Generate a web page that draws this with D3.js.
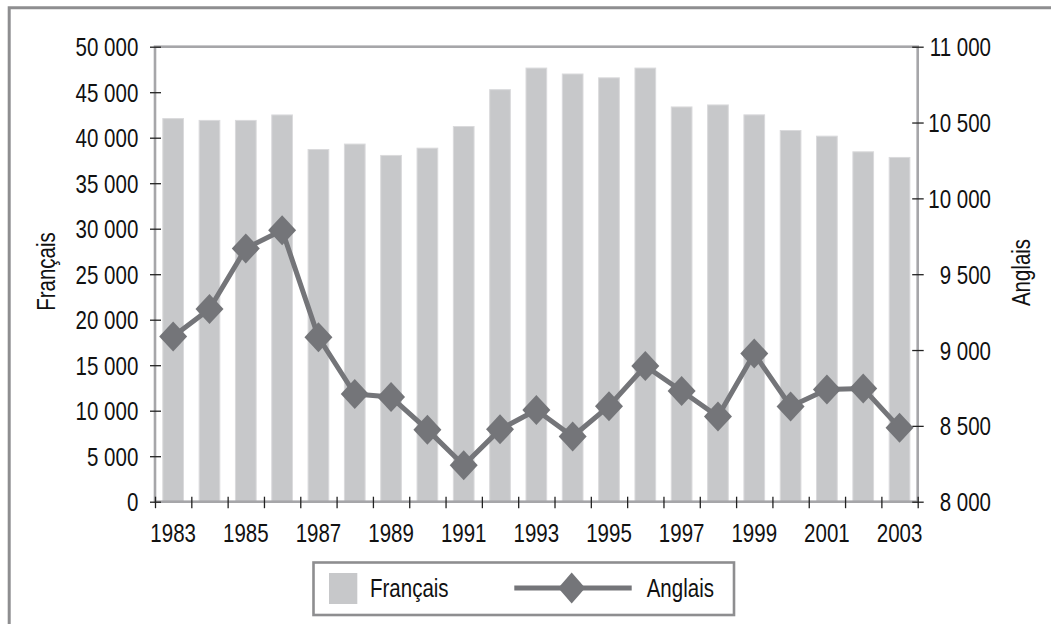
<!DOCTYPE html>
<html>
<head>
<meta charset="utf-8">
<script src="https://cdn.jsdelivr.net/npm/d3@7"></script>
<style>
  html, body { margin: 0; padding: 0; background: #fff; }
  svg { display: block; }
  text { font-family: 'Liberation Sans', Arial, sans-serif; fill: #111; }
</style>
</head>
<body>
<svg id="chart" width="1051" height="624"></svg>
<script>
const years = ["1983","1984","1985","1986","1987","1988","1989","1990","1991","1992","1993","1994","1995","1996","1997","1998","1999","2000","2001","2002","2003"];
const francais = [42100, 41900, 41900, 42500, 38700, 39300, 38050, 38850, 41230, 45280, 47650, 47000, 46580, 47650, 43380, 43600, 42510, 40790, 40170, 38450, 37830];
const anglais = [9090, 9270, 9670, 9790, 9085, 8710, 8690, 8475, 8240, 8477, 8605, 8430, 8630, 8895, 8730, 8562, 8977, 8628, 8740, 8747, 8487];
const leftTicks = [0, 5000, 10000, 15000, 20000, 25000, 30000, 35000, 40000, 45000, 50000];
const rightTicks = [8000, 8500, 9000, 9500, 10000, 10500, 11000];
const yearLabels = ["1983","1985","1987","1989","1991","1993","1995","1997","1999","2001","2003"];
const seriesNames = ["Français", "Anglais"];

const svg = d3.select("#chart");
const X0 = 155, X1 = 917.7, Y0 = 46.7, Y1 = 501.7;
const FS = 25;
const SX = 0.82; // narrow (condensed) horizontal scale
const axisGray = "#a6a6a9";
const barFill = "#c7c8ca";
const lineCol = "#747579";

const fmt = v => d3.format(",")(v).replace(/,/g, " ");

// Outer frame (only left & top visible)
svg.append("path").attr("d", `M9.2,624 L9.2,7.8 L1051,7.8`)
  .attr("fill", "none").attr("stroke", "#8e8e90").attr("stroke-width", 3);

const x = d3.scaleBand().domain(years).range([X0, X1]).paddingInner(0).paddingOuter(0);
const xIdx = d3.scaleLinear().domain([0, years.length]).range([X0, X1]);
const yL = d3.scaleLinear().domain([0, 50000]).range([Y1, Y0]);
const yR = d3.scaleLinear().domain([8000, 11000]).range([Y1, Y0]);

// Bars
const bw = x.bandwidth() * 0.57;
svg.append("g").selectAll("rect").data(francais).join("rect")
  .attr("x", (d, i) => x(years[i]) + (x.bandwidth() - bw) / 2)
  .attr("y", d => yL(d))
  .attr("width", bw)
  .attr("height", d => Y1 - yL(d))
  .attr("fill", barFill)
  .attr("stroke", "#dadadc").attr("stroke-width", 1);

// Plot border
svg.append("rect").attr("x", X0).attr("y", Y0).attr("width", X1 - X0).attr("height", Y1 - Y0)
  .attr("fill", "none").attr("stroke", axisGray).attr("stroke-width", 2.6);

// Left axis
const gL = svg.append("g").attr("transform", `translate(${X0},0)`)
  .call(d3.axisLeft(yL).tickValues(leftTicks).tickFormat(fmt).tickSize(5));
gL.select(".domain").remove();
gL.selectAll(".tick line").attr("x1", 6).attr("x2", -5).attr("stroke", "#222").attr("stroke-width", 1.3);
gL.selectAll(".tick text").attr("x", -16.7 / SX).attr("dy", "0.36em").attr("transform", `scale(${SX},1)`)
  .style("font-size", FS + "px").attr("fill", "#111");

// Right axis
const gR = svg.append("g").attr("transform", `translate(${X1},0)`)
  .call(d3.axisRight(yR).tickValues(rightTicks).tickFormat(fmt).tickSize(6));
gR.select(".domain").remove();
gR.selectAll(".tick line").attr("x1", -5.5).attr("x2", 6).attr("stroke", "#222").attr("stroke-width", 1.3);
gR.selectAll(".tick text").attr("x", (991 - X1) / SX).attr("text-anchor", "end").attr("dy", "0.36em")
  .attr("transform", `scale(${SX},1)`).style("font-size", FS + "px").attr("fill", "#111");

// Bottom axis: tick marks at band boundaries
const gB = svg.append("g").attr("transform", `translate(0,${Y1})`)
  .call(d3.axisBottom(xIdx).tickValues(d3.range(years.length + 1)).tickFormat("").tickSize(6));
gB.select(".domain").remove();
gB.selectAll(".tick line").attr("y1", -5).attr("y2", 6.5).attr("stroke", "#222").attr("stroke-width", 1.3);

// Bottom axis labels (every 2 years)
const gBL = svg.append("g").attr("transform", `translate(0,${Y1})`)
  .call(d3.axisBottom(x).tickValues(yearLabels).tickSize(0).tickPadding(0));
gBL.select(".domain").remove();
gBL.selectAll(".tick text").attr("y", 40).attr("dy", 0).attr("transform", `scale(${SX},1)`)
  .style("font-size", FS + "px").attr("fill", "#111");

// Line
const cx = (d, i) => x(years[i]) + x.bandwidth() / 2;
svg.append("path").datum(anglais)
  .attr("d", d3.line().x(cx).y(d => yR(d)))
  .attr("fill", "none").attr("stroke", lineCol).attr("stroke-width", 5).attr("stroke-linejoin", "round");

const diamond = (hw, hh) => `M0,${-hh} L${hw},0 L0,${hh} L${-hw},0 Z`;
svg.append("g").selectAll("path").data(anglais).join("path")
  .attr("transform", (d, i) => `translate(${cx(d, i)},${yR(d)})`)
  .attr("d", diamond(14, 15))
  .attr("fill", lineCol);

// Axis titles
svg.append("text").attr("transform", `translate(55,271.5) rotate(-90) scale(${SX},1)`)
  .attr("text-anchor", "middle").style("font-size", FS + "px").text(seriesNames[0]);
svg.append("text").attr("transform", `translate(1030,272.5) rotate(-90) scale(${SX},1)`)
  .attr("text-anchor", "middle").style("font-size", FS + "px").text(seriesNames[1]);

// Legend
const lg = svg.append("g");
lg.append("rect").attr("x", 313.5).attr("y", 562.5).attr("width", 420.5).attr("height", 52.5)
  .attr("fill", "#fff").attr("stroke", "#8e8e90").attr("stroke-width", 2.6);
lg.append("rect").attr("x", 329).attr("y", 573).attr("width", 28.3).attr("height", 31)
  .attr("fill", barFill);
lg.append("text").attr("transform", `translate(370,597) scale(${SX},1)`).style("font-size", FS + "px").text(seriesNames[0]);
lg.append("line").attr("x1", 514.3).attr("x2", 631.7).attr("y1", 588).attr("y2", 588)
  .attr("stroke", lineCol).attr("stroke-width", 5);
lg.append("path").attr("transform", "translate(571.7,588)").attr("d", diamond(13.5, 15.5)).attr("fill", lineCol);
lg.append("text").attr("transform", `translate(646.7,597) scale(${SX},1)`).style("font-size", FS + "px").text(seriesNames[1]);
</script>
</body>
</html>
